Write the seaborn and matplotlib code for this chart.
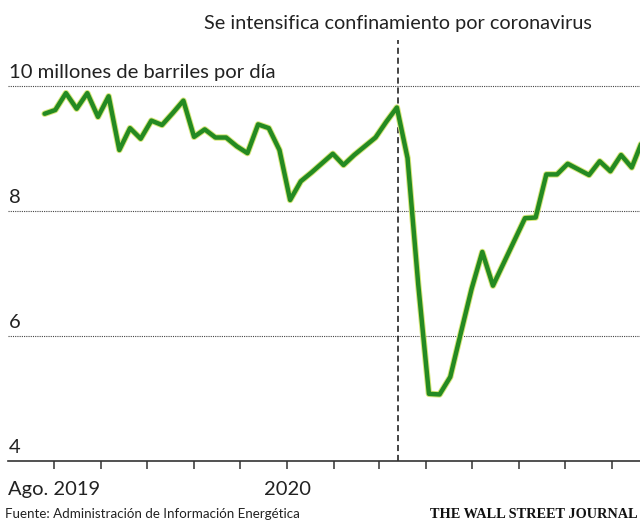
import pandas as pd
import matplotlib.pyplot as plt
import matplotlib.dates as mdates
import matplotlib.transforms as mtransforms
import seaborn as sns

# gasolina suministrada, promedio semanal (millones de barriles por dia)
valores = [9.55, 9.61, 9.88, 9.63, 9.88, 9.50, 9.83, 8.97, 9.32, 9.15,
           9.44, 9.37, 9.56, 9.76, 9.18, 9.30, 9.17, 9.17, 9.03, 8.92,
           9.38, 9.32, 8.97, 8.17, 8.47, 8.61, 8.76, 8.91, 8.73, 8.89,
           9.03, 9.17, 9.42, 9.65, 8.84, 6.82, 5.07, 5.06, 5.34, 6.05,
           6.75, 7.34, 6.80, 7.16, 7.52, 7.88, 7.89, 8.58, 8.58, 8.75,
           8.66, 8.57, 8.79, 8.63, 8.89, 8.69, 9.12]
semanas = pd.date_range('2019-07-26', periods=len(valores), freq='W-FRI')

y_ticks = [4, 6, 8, 10]
y_labels = ['4', '6', '8', '10 millones de barriles por día']
meses = pd.date_range('2019-08-01', '2020-08-01', freq='MS')
x_labels = ['Ago. 2019', '', '', '', '', '2020', '', '', '', '', '', '', '']
corte = pd.Timestamp('2020-03-14')
nota = 'Se intensifica confinamiento por coronavirus'

df = pd.DataFrame({'semana': semanas, 'valor': valores})

sns.set_style('white')
plt.rcParams['font.family'] = ['Lato', 'DejaVu Sans']

fig = plt.figure(figsize=(6.4, 5.22), dpi=100)
fig.patch.set_facecolor('white')
ax = fig.add_axes([0.0125, 0.1174, 0.9875, 0.806])

for v in y_ticks[1:]:
    ax.axhline(v, color='#444444', lw=0.8, ls=(0, (1, 1)), zorder=1)

ax.axvline(corte, color='#111111', lw=1.1, ls=(0, (4, 2.5)), zorder=2)

# halo amarillento + linea verde
sns.lineplot(data=df, x='semana', y='valor', color='#d6e67a', lw=4.6, ax=ax, zorder=3)
sns.lineplot(data=df, x='semana', y='valor', color='#248a22', lw=3.2, ax=ax, zorder=4)

ax.set_xlim(pd.Timestamp('2019-07-02'), pd.Timestamp('2020-08-19 10:00'))
ax.set_ylim(4, 10.73)
ax.set_xlabel('')
ax.set_ylabel('')

for s in ['top', 'left', 'right']:
    ax.spines[s].set_visible(False)
ax.spines['bottom'].set_color('#333333')
ax.spines['bottom'].set_linewidth(1.2)

ax.set_xticks(meses)
ax.set_xticklabels(x_labels, fontsize=14.5, color='#222222')
ax.tick_params(axis='x', bottom=True, direction='out', length=6, width=1.1,
               color='#333333', pad=8.5)
ax.set_yticks([])

ytr = ax.get_yaxis_transform()
for v, lbl in zip(y_ticks, y_labels):
    ax.annotate(lbl, xy=(0.002, v), xycoords=ytr, xytext=(0, 5.5),
                textcoords='offset points', ha='left', va='baseline',
                fontsize=14.6, color='#222222')

tr = mtransforms.blended_transform_factory(ax.transData, ax.transAxes)
ax.annotate(nota, xy=(mdates.date2num(corte), 1.0), xycoords=tr, xytext=(0, 12),
            textcoords='offset points', ha='center', va='center',
            fontsize=14.3, color='#222222')

fig.text(5 / 640, 1 - 514 / 522, 'Fuente: Administración de Información Energética',
         ha='left', va='center', fontsize=9.6, color='#222222')
fig.text(638 / 640, 1 - 515 / 522, 'THE WALL STREET JOURNAL',
         ha='right', va='center', fontsize=10.3, color='#111111',
         family=['Liberation Serif', 'DejaVu Serif'], weight='bold')

plt.savefig('out.png', dpi=100)
plt.close()
